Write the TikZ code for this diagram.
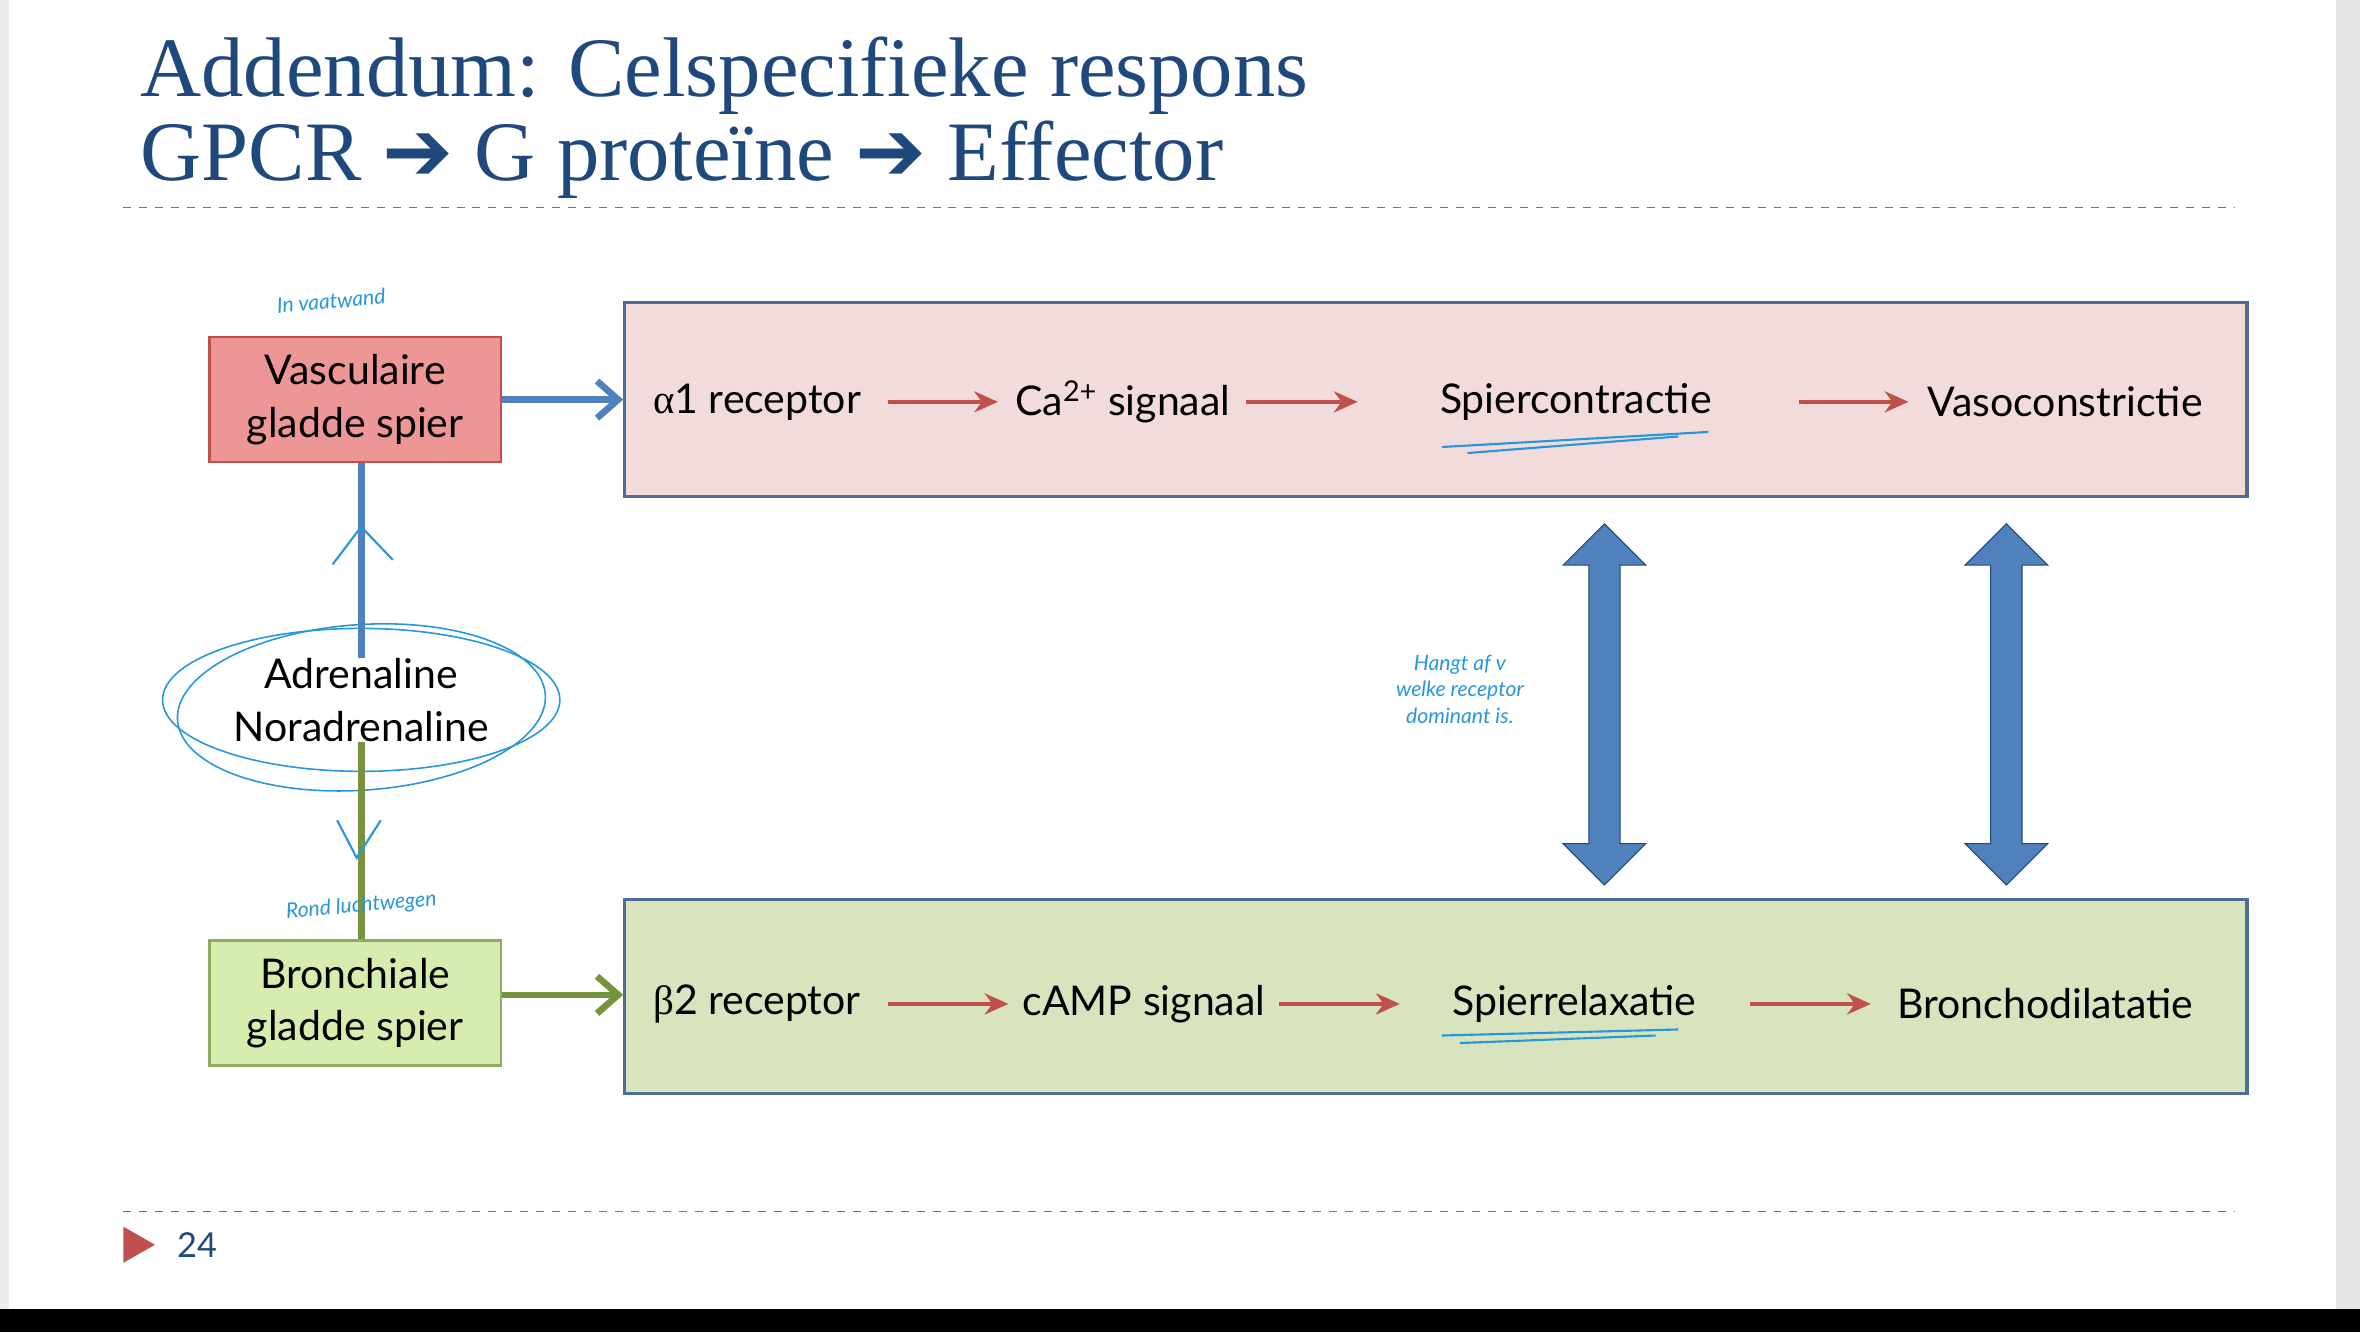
\documentclass[tikz,border=0pt]{standalone}
\usepackage{fontspec}
\setmainfont{Lato}
\newfontfamily\titlefont{Liberation Serif}
\newfontfamily\symfont{DejaVu Sans}
\usetikzlibrary{arrows.meta,shapes.arrows}
\definecolor{titleblue}{RGB}{31,73,125}
\definecolor{redarr}{RGB}{192,80,77}
\definecolor{boxblue}{RGB}{79,129,189}
\definecolor{pinkfill}{RGB}{242,220,219}
\definecolor{greenfill}{RGB}{215,228,189}
\definecolor{vasfill}{RGB}{236,150,150}
\definecolor{brofill}{RGB}{215,236,175}
\definecolor{linegreen}{RGB}{119,147,60}
\definecolor{pen}{RGB}{40,150,220}
\begin{document}
\begin{tikzpicture}[x=0.02cm, y=-0.02cm]
    \tikzstyle{lbl} = [font=\fontsize{15.5}{20}\selectfont, align=center, inner sep=0pt]
    \tikzstyle{chain} = [draw=redarr, line width=1.4pt, -{Stealth[length=9pt,width=8pt]}]
    \tikzstyle{cell} = [rectangle, draw, line width=1pt, minimum width=3.88cm, minimum height=1.66cm, lbl]
    \tikzstyle{band} = [rectangle, draw=titleblue!80, line width=1.2pt, minimum width=21.56cm, minimum height=2.58cm]
    \tikzstyle{swap} = [double arrow, draw=titleblue, fill=boxblue, rotate=90, minimum height=4.8cm, minimum width=1.1cm, inner sep=5pt, double arrow head extend=0.3cm]
    \tikzstyle{hand} = [text=pen, font=\itshape\fontsize{8}{10}\selectfont, align=center]

    \useasboundingbox (0,0) rectangle (1568,885);
    \fill[gray!15] (0,0) rectangle (6,870);
    \fill[gray!20] (1552,0) rectangle (1568,870);
    \fill[black] (0,870) rectangle (1568,885);

    % title
    \node[anchor=west, text=titleblue, font=\titlefont\fontsize{32}{38}\selectfont, inner sep=0pt] (t1) at (93,50) {Addendum: Celspecifieke respons};
    \node[anchor=west, text=titleblue, font=\titlefont\fontsize{32}{38}\selectfont, inner sep=0pt] (t2) at (93,106) {GPCR {\symfont\bfseries ➔} G prote\"ine {\symfont\bfseries ➔} Effector};
    \draw[redarr, dashed, line width=0.6pt] (82,138) -- (1485,138);
    \draw[redarr, dashed, line width=0.6pt] (82,805) -- (1485,805);
    \fill[redarr] (82,815) -- (103,827) -- (82,839) -- cycle;
    \node[text=titleblue, font=\fontsize{13}{15}\selectfont] (pg) at (131,827) {24};

    % boxes
    \node[band, fill=pinkfill] (top) at (954,265.5) {};
    \node[band, fill=greenfill] (bot) at (954,662) {};
    \node[cell, draw=redarr, fill=vasfill] (vas) at (236,265.5) {Vasculaire\\gladde spier};
    \node[cell, draw=linegreen!80, fill=brofill] (bro) at (236,666.5) {Bronchiale\\gladde spier};
    \node[lbl] (adr) at (240,465) {Adrenaline\\Noradrenaline};
    \draw[pen, line width=0.6pt] (adr) ellipse (2.64cm and 0.95cm);
    \draw[pen, line width=0.6pt, rotate around={4:(240,468)}] (240,470) ellipse (2.45cm and 1.1cm);

    \draw[boxblue, line width=2.5pt] (adr.north) -- (adr.north |- vas.south);
    \draw[linegreen, line width=2.5pt] (adr.south) -- (adr.south |- bro.north);
    \draw[boxblue, line width=2.5pt, -{Straight Barb[length=8pt,width=14pt]}] (vas.east) -- (top.west);
    \draw[linegreen, line width=2.5pt, -{Straight Barb[length=8pt,width=14pt]}] (bro.east |- 661,661) -- (bot.west |- 661,661);

    % top chain
    \node[lbl] (a1) at (503,267) {{\titlefont α}1 receptor};
    \node[lbl] (ca) at (746,267) {Ca\textsuperscript{2+} signaal};
    \node[lbl] (sc) at (1047,267) {Spiercontractie};
    \node[lbl] (vc) at (1372,267) {Vasoconstrictie};
    \draw[chain] (590,267) -- (663,267);
    \draw[chain] (828,267) -- (902,267);
    \draw[chain] (1195,267) -- (1268,267);

    % bottom chain
    \node[lbl] (b2) at (503,667) {{\titlefont β}2 receptor};
    \node[lbl] (camp) at (760,667) {cAMP signaal};
    \node[lbl] (sr) at (1046,667) {Spierrelaxatie};
    \node[lbl] (bd) at (1359,667) {Bronchodilatatie};
    \draw[chain] (590,667) -- (670,667);
    \draw[chain] (850,667) -- (930,667);
    \draw[chain] (1163,667) -- (1243,667);

    % double arrows
    \node[swap] (d1) at (1066,468) {};
    \node[swap] (d2) at (1333,468) {};

    % handwritten notes
    \draw[pen, line width=0.8pt] (958,297) -- (1135,287);
    \draw[pen, line width=0.8pt] (975,301) -- (1115,290);
    \draw[pen, line width=0.8pt] (958,688) -- (1115,684);
    \draw[pen, line width=0.8pt] (970,693) -- (1100,688);
    \draw[pen, line width=0.8pt] (221,375) -- (240,350) -- (261,372);
    \draw[pen, line width=0.8pt] (224,545) -- (237,570) -- (253,545);
    \node[hand, rotate=5] (n1) at (220,200) {In vaatwand};
    \node[hand] (n2) at (970,458) {Hangt af v\\welke receptor\\dominant is.};
    \node[hand, rotate=5] (n3) at (240,602) {Rond luchtwegen};
\end{tikzpicture}
\end{document}
